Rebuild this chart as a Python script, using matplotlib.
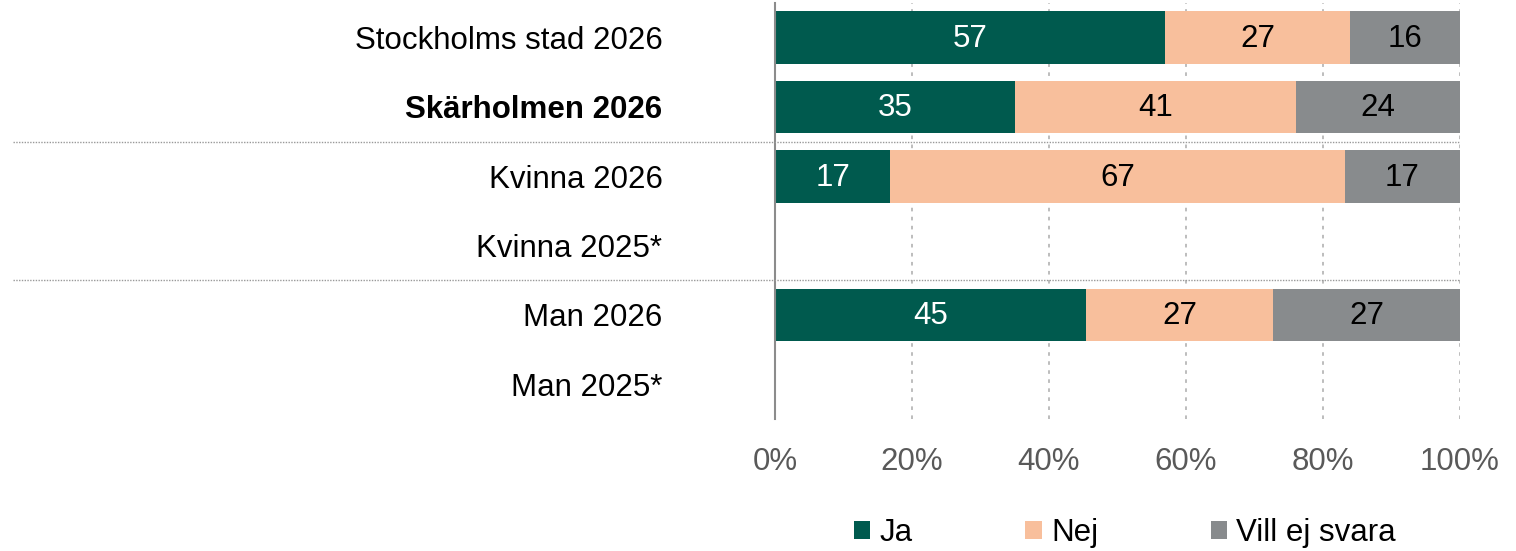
import numpy as np
import matplotlib.pyplot as plt
from matplotlib.patches import Patch
from matplotlib.lines import Line2D
from matplotlib.transforms import blended_transform_factory

plt.rcParams['font.family'] = ['Liberation Sans', 'DejaVu Sans']
FS = 22.5
plt.rcParams['font.size'] = FS

# survey answers per group (percent), missing rows have no data
labels = ["Stockholms stad 2026", "Skärholmen 2026", "Kvinna 2026",
          "Kvinna 2025*", "Man 2026", "Man 2025*"]
ja = [57, 35, 17, None, 45, None]
nej = [27, 41, 67, None, 27, None]
vill = [16, 24, 17, None, 27, None]

series = ["Ja", "Nej", "Vill ej svara"]
colors = ["#005a4e", "#f8bf9c", "#888b8d"]
text_colors = ["white", "black", "black"]

vals = np.array([[np.nan if v is None else v for v in s] for s in (ja, nej, vill)], dtype=float)
totals = np.nansum(vals, axis=0)

fig = plt.figure(figsize=(15.16, 5.51), dpi=100)
ax = fig.add_axes([775 / 1516, 1 - 419 / 551, 685 / 1516, 416 / 551])

y = np.arange(len(labels))
left = np.zeros(len(labels))
for k in range(3):
    for i in range(len(labels)):
        if np.isnan(vals[k, i]):
            continue
        w = vals[k, i] / totals[i]
        ax.barh(y[i], w, left=left[i], height=0.76, color=colors[k], zorder=2)
        ax.text(left[i] + w / 2, y[i] + 0.02, "%d" % vals[k, i], ha='center', va='center',
                color=text_colors[k], fontsize=FS, zorder=3)
        left[i] += w

ax.set_ylim(len(labels) - 0.5, -0.5)
ax.set_xlim(0, 1)
ax.set_yticks(y)
ax.set_yticklabels(labels)
ax.get_yticklabels()[1].set_fontweight('bold')
ax.set_xticks(np.linspace(0, 1, 6))
ax.set_xticklabels(["0%", "20%", "40%", "60%", "80%", "100%"], color='#595959')
ax.tick_params(axis='y', length=0, pad=81)
ax.tick_params(axis='x', length=0, pad=20)

ax.xaxis.grid(True, color='#b8b8b8', linestyle=(0, (2, 3)), linewidth=1.3, zorder=0)
for s in ['top', 'right', 'bottom']:
    ax.spines[s].set_visible(False)
ax.spines['left'].set_color('#8c8c8c')
ax.spines['left'].set_linewidth(1.5)
ax.spines['left'].set_zorder(4)

# group separators across label area and plot
tr = blended_transform_factory(fig.transFigure, ax.transData)
for ys in (1.5, 3.5):
    fig.add_artist(Line2D([13 / 1516, 1460 / 1516], [ys, ys], transform=tr,
                          color='#999999', linestyle=(0, (1, 1)), linewidth=1.0))

handles = [Patch(facecolor=c, edgecolor='none') for c in colors]
fig.legend(handles, series, loc='center', bbox_to_anchor=(1125 / 1516, 18 / 551),
           ncol=3, frameon=False, handlelength=0.52, handleheight=0.52,
           handletextpad=0.3, columnspacing=3.6, fontsize=FS)

plt.savefig("out.png")
